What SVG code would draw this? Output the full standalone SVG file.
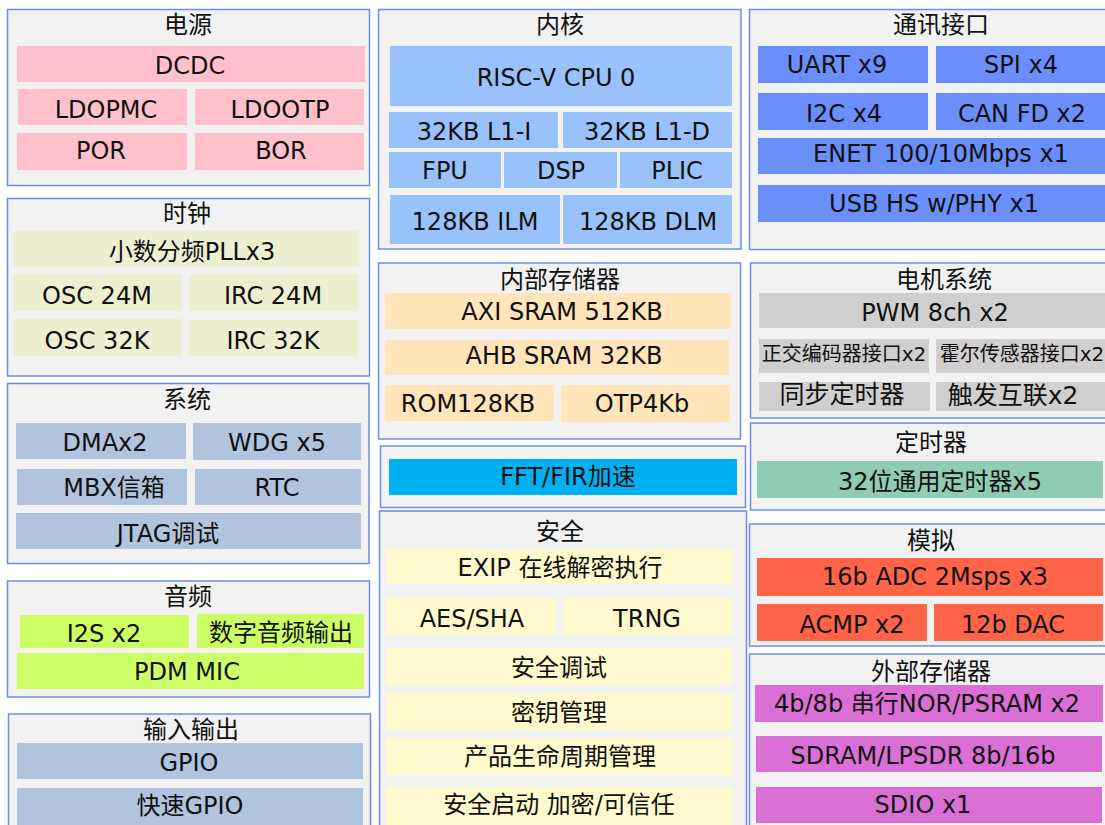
<svg xmlns="http://www.w3.org/2000/svg" width="1105" height="825" viewBox="0 0 1105 825">
<style>
.c{fill:#f2f2f2;stroke:#6e8ce6;stroke-width:1.5}
text{font-family:"DejaVu Sans","Noto Sans CJK SC",sans-serif;font-size:24px;fill:#111;text-anchor:middle}
.t{font-size:24px}
.s{font-size:20px}
.b{font-size:25px}
.pw{fill:#ffc0cb}.ck{fill:#eeefd0}.sy{fill:#b0c4de}.au{fill:#ccff66}.co{fill:#9ac2fa}
.im{fill:#ffe5b9}.ff{fill:#00b0f0}.se{fill:#fffacd}.cm{fill:#6a8ffa}.mo{fill:#d0cece}
.tm{fill:#90cbb4}.an{fill:#ff6449}.em{fill:#da70d6}
</style>
<rect width="1105" height="825" fill="#ffffff"/>
<g id="power">
<rect class="c" x="7.5" y="9.5" width="362" height="176"/>
<text class="t" x="188" y="33">电源</text>
<rect class="pw" x="17" y="46" width="348" height="36"/><text x="190" y="74">DCDC</text>
<rect class="pw" x="18" y="89" width="169" height="36"/><text x="106" y="118">LDOPMC</text>
<rect class="pw" x="195" y="89" width="169" height="36"/><text x="280" y="118">LDOOTP</text>
<rect class="pw" x="17" y="133" width="170" height="37"/><text x="101" y="159">POR</text>
<rect class="pw" x="195" y="133" width="169" height="37"/><text x="281" y="159">BOR</text>
</g>
<g id="clock">
<rect class="c" x="7.5" y="198.5" width="362" height="177.5"/>
<text class="t" x="187" y="222">时钟</text>
<rect class="ck" x="13" y="231" width="346" height="36"/><text x="192" y="260">小数分频PLLx3</text>
<rect class="ck" x="13" y="274" width="169" height="37"/><text x="97" y="304">OSC 24M</text>
<rect class="ck" x="189" y="274" width="169" height="37"/><text x="273" y="304">IRC 24M</text>
<rect class="ck" x="13" y="319" width="169" height="37"/><text x="97" y="349">OSC 32K</text>
<rect class="ck" x="189" y="320" width="169" height="36"/><text x="273" y="349">IRC 32K</text>
</g>
<g id="system">
<rect class="c" x="7.5" y="383.5" width="361.5" height="180"/>
<text class="t" x="187" y="408">系统</text>
<rect class="sy" x="16" y="423" width="170" height="36"/><text x="105" y="451">DMAx2</text>
<rect class="sy" x="193" y="423" width="168" height="37"/><text x="277" y="451">WDG x5</text>
<rect class="sy" x="17" y="469" width="170" height="36"/><text x="114" y="496">MBX信箱</text>
<rect class="sy" x="195" y="469" width="166" height="36"/><text x="277" y="496">RTC</text>
<rect class="sy" x="16" y="513" width="345" height="36"/><text x="168" y="542">JTAG调试</text>
</g>
<g id="audio">
<rect class="c" x="7.5" y="581" width="362" height="116"/>
<text class="t" x="188" y="605">音频</text>
<rect class="au" x="20" y="615" width="169" height="33"/><text x="104" y="642">I2S x2</text>
<rect class="au" x="197" y="614" width="167" height="34"/><text x="281" y="641">数字音频输出</text>
<rect class="au" x="17" y="653" width="347" height="36"/><text x="187" y="680">PDM MIC</text>
</g>
<g id="io">
<rect class="c" x="8.5" y="714" width="362" height="130"/>
<text class="t" x="191" y="738">输入输出</text>
<rect class="sy" x="17" y="743" width="346" height="36"/><text x="189" y="771">GPIO</text>
<rect class="sy" x="17" y="788" width="346" height="40"/><text x="190" y="814">快速GPIO</text>
</g>
<g id="core">
<rect class="c" x="378.5" y="9.5" width="362.5" height="239.5"/>
<text class="t" x="560" y="33">内核</text>
<rect class="co" x="390" y="46" width="342" height="60"/><text x="556" y="86">RISC-V CPU 0</text>
<rect class="co" x="389" y="112" width="169" height="36"/><text x="474" y="140">32KB L1-I</text>
<rect class="co" x="563" y="112" width="169" height="36"/><text x="647" y="140">32KB L1-D</text>
<rect class="co" x="389" y="152" width="112" height="36"/><text x="445" y="179">FPU</text>
<rect class="co" x="504" y="152" width="113" height="36"/><text x="561" y="179">DSP</text>
<rect class="co" x="620" y="152" width="112" height="36"/><text x="677" y="179">PLIC</text>
<rect class="co" x="390" y="195" width="170" height="49"/><text x="475" y="230">128KB ILM</text>
<rect class="co" x="563" y="195" width="169" height="49"/><text x="648" y="230">128KB DLM</text>
</g>
<g id="internal-memory">
<rect class="c" x="378.5" y="263" width="362" height="176"/>
<text class="t" x="560" y="288">内部存储器</text>
<rect class="im" x="385" y="293" width="346" height="36"/><text x="562" y="320">AXI SRAM 512KB</text>
<rect class="im" x="385" y="340" width="344" height="35"/><text x="564" y="364">AHB SRAM 32KB</text>
<rect class="im" x="385" y="385" width="169" height="36"/><text x="468" y="412">ROM128KB</text>
<rect class="im" x="561" y="385" width="169" height="37"/><text x="642" y="412">OTP4Kb</text>
</g>
<g id="fft">
<rect class="c" x="380.5" y="446" width="365" height="61.5"/>
<rect class="ff" x="389" y="459" width="348" height="36"/><text x="568" y="485">FFT/FIR加速</text>
</g>
<g id="security">
<rect class="c" x="379.5" y="511" width="367" height="330"/>
<text class="t" x="560" y="540">安全</text>
<rect class="se" x="386" y="549" width="347" height="35"/><text x="560" y="576">EXIP 在线解密执行</text>
<rect class="se" x="386" y="598" width="170" height="37"/><text x="472" y="627">AES/SHA</text>
<rect class="se" x="563" y="598" width="169" height="37"/><text x="647" y="627">TRNG</text>
<rect class="se" x="386" y="648" width="346" height="37"/><text x="559" y="676">安全调试</text>
<rect class="se" x="386" y="693" width="346" height="37"/><text x="559" y="721">密钥管理</text>
<rect class="se" x="386" y="738" width="347" height="37"/><text x="560" y="765">产品生命周期管理</text>
<rect class="se" x="386" y="787" width="347" height="40"/><text x="559" y="813">安全启动 加密/可信任</text>
</g>
<g id="comm">
<rect class="c" x="749.5" y="9.5" width="370" height="240"/>
<text class="t" x="941" y="33">通讯接口</text>
<rect class="cm" x="758" y="46" width="170" height="37"/><text x="837" y="73">UART x9</text>
<rect class="cm" x="936" y="46" width="175" height="37"/><text x="1021" y="73">SPI x4</text>
<rect class="cm" x="758" y="93" width="170" height="37"/><text x="844" y="122">I2C x4</text>
<rect class="cm" x="936" y="93" width="175" height="37"/><text x="1022" y="122">CAN FD x2</text>
<rect class="cm" x="758" y="138" width="352" height="36"/><text x="941" y="162">ENET 100/10Mbps x1</text>
<rect class="cm" x="758" y="185" width="352" height="37"/><text x="934" y="212">USB HS w/PHY x1</text>
</g>
<g id="motor">
<rect class="c" x="750.5" y="263" width="370" height="155"/>
<text class="t" x="944" y="288">电机系统</text>
<rect class="mo" x="759" y="293" width="352" height="35"/><text x="935" y="321">PWM 8ch x2</text>
<rect class="mo" x="759" y="339" width="170" height="34"/><text class="s" x="844" y="361">正交编码器接口x2</text>
<rect class="mo" x="936" y="339" width="175" height="34"/><text class="s" x="1022" y="361">霍尔传感器接口x2</text>
<rect class="mo" x="759" y="382" width="171" height="29"/><text class="b" x="842" y="403">同步定时器</text>
<rect class="mo" x="936" y="382" width="175" height="29"/><text class="b" x="1013" y="404">触发互联x2</text>
</g>
<g id="timer">
<rect class="c" x="750.5" y="423" width="370" height="87"/>
<text class="t" x="931" y="451">定时器</text>
<rect class="tm" x="757" y="461" width="346" height="37"/><text x="940" y="490">32位通用定时器x5</text>
</g>
<g id="analog">
<rect class="c" x="749.5" y="524" width="370" height="122"/>
<text class="t" x="931" y="549">模拟</text>
<rect class="an" x="757" y="558" width="346" height="38"/><text x="935" y="585">16b ADC 2Msps x3</text>
<rect class="an" x="757" y="604" width="170" height="37"/><text x="852" y="633">ACMP x2</text>
<rect class="an" x="934" y="604" width="169" height="37"/><text x="1013" y="633">12b DAC</text>
</g>
<g id="external-memory">
<rect class="c" x="749.5" y="654" width="370" height="190"/>
<text class="t" x="931" y="680">外部存储器</text>
<rect class="em" x="755" y="685" width="348" height="37"/><text x="927" y="712">4b/8b 串行NOR/PSRAM x2</text>
<rect class="em" x="756" y="736" width="346" height="36"/><text x="923" y="764">SDRAM/LPSDR 8b/16b</text>
<rect class="em" x="756" y="787" width="346" height="36"/><text x="923" y="813">SDIO x1</text>
</g>
<g id="connectors"/>
</svg>
